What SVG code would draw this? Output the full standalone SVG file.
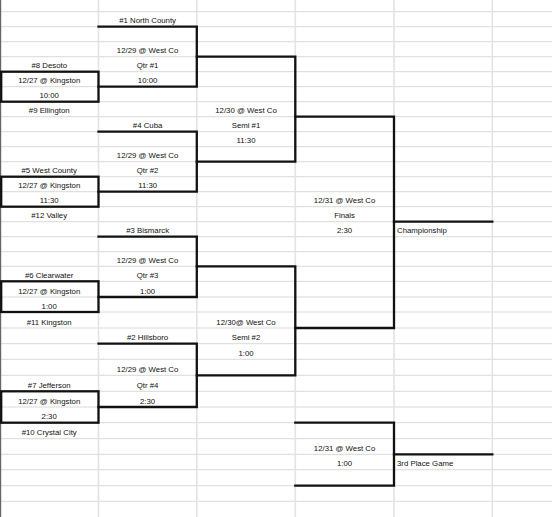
<svg xmlns="http://www.w3.org/2000/svg" width="552" height="517" viewBox="0 0 552 517">
<style>
.g{stroke:#d9d9d9;stroke-width:1;fill:none}
.gv{stroke:#e3e3e3;stroke-width:1.6;fill:none}
.b{stroke:#111;stroke-width:2.3;fill:none;stroke-linecap:square}
text{font-family:"Liberation Sans",Arial,sans-serif;font-size:7.8px;fill:#111}
.c{text-anchor:middle}
</style>
<rect width="552" height="517" fill="#fff"/>
<g id="grid">
<path class="g" d="M0,11.7H552M0,26.7H552M0,41.7H552M0,56.7H552M0,71.7H552M0,86.7H552M0,101.7H552M0,116.7H552M0,131.7H552M0,146.7H552M0,161.7H552M0,176.7H552M0,191.7H552M0,206.7H552M0,221.7H552M0,236.7H552M0,251.7H552M0,266.3H552M0,281.3H552M0,297H552M0,312H552M0,328H552M0,343.7H552M0,359.3H552M0,375.3H552M0,391.3H552M0,407H552M0,422.7H552M0,438.7H552M0,454.3H552M0,469.7H552M0,485.7H552M0,501.3H552"/>
<path class="gv" d="M98.5,0V517M196.8,0V517M295.3,0V517M394,0V517M492.3,0V517"/>
<path d="M0.6,0V517" stroke="#666" stroke-width="1.2"/>
</g>
<g id="connectors">
<path class="b" d="M98.5,26.7H196.8V86.7H98.5"/>
<path class="b" d="M98.5,131.7H196.8V191.7H98.5"/>
<path class="b" d="M98.5,236.7H196.8V297H98.5"/>
<path class="b" d="M98.5,343.7H196.8V407H98.5"/>
<path class="b" d="M196.8,56.7H295.3V161.7H196.8"/>
<path class="b" d="M196.8,266.3H295.3V375.3H196.8"/>
<path class="b" d="M295.3,116.7H394V328H295.3"/>
<path class="b" d="M394,221.7H492.3"/>
<path class="b" d="M295.3,422.7H394V485.7H295.3"/>
<path class="b" d="M394,454.3H492.3"/>
</g>
<g id="r1-game1">
<rect class="b" x="1.2" y="71.7" width="97.3" height="30"/>
<text class="c" x="49.2" y="68.2">#8 Desoto</text>
<text class="c" x="49.2" y="83.2">12/27 @ Kingston</text>
<text class="c" x="49.2" y="98.2">10:00</text>
<text class="c" x="49.2" y="113.2">#9 Ellington</text>
</g>
<g id="r1-game2">
<rect class="b" x="1.2" y="176.7" width="97.3" height="30"/>
<text class="c" x="49.2" y="173.2">#5 West County</text>
<text class="c" x="49.2" y="188.2">12/27 @ Kingston</text>
<text class="c" x="49.2" y="203.2">11:30</text>
<text class="c" x="49.2" y="218.2">#12 Valley</text>
</g>
<g id="r1-game3">
<rect class="b" x="1.2" y="281.3" width="97.3" height="30.7"/>
<text class="c" x="49.2" y="277.8">#6 Clearwater</text>
<text class="c" x="49.2" y="293.5">12/27 @ Kingston</text>
<text class="c" x="49.2" y="308.5">1:00</text>
<text class="c" x="49.2" y="324.5">#11 Kingston</text>
</g>
<g id="r1-game4">
<rect class="b" x="1.2" y="391.3" width="97.3" height="31.4"/>
<text class="c" x="49.2" y="387.8">#7 Jefferson</text>
<text class="c" x="49.2" y="403.5">12/27 @ Kingston</text>
<text class="c" x="49.2" y="419.2">2:30</text>
<text class="c" x="49.2" y="435.2">#10 Crystal City</text>
</g>
<g id="qtr1">
<text class="c" x="147.6" y="23.2">#1 North County</text>
<text class="c" x="147.6" y="53.2">12/29 @ West Co</text>
<text class="c" x="147.6" y="68.2">Qtr #1</text>
<text class="c" x="147.6" y="83.2">10:00</text>
</g>
<g id="qtr2">
<text class="c" x="147.6" y="128.2">#4 Cuba</text>
<text class="c" x="147.6" y="158.2">12/29 @ West Co</text>
<text class="c" x="147.6" y="173.2">Qtr #2</text>
<text class="c" x="147.6" y="188.2">11:30</text>
</g>
<g id="qtr3">
<text class="c" x="147.6" y="233.2">#3 Bismarck</text>
<text class="c" x="147.6" y="262.8">12/29 @ West Co</text>
<text class="c" x="147.6" y="277.8">Qtr #3</text>
<text class="c" x="147.6" y="293.5">1:00</text>
</g>
<g id="qtr4">
<text class="c" x="147.6" y="340.2">#2 Hillsboro</text>
<text class="c" x="147.6" y="371.8">12/29 @ West Co</text>
<text class="c" x="147.6" y="387.8">Qtr #4</text>
<text class="c" x="147.6" y="403.5">2:30</text>
</g>
<g id="semi1">
<text class="c" x="246" y="113.2">12/30 @ West Co</text>
<text class="c" x="246" y="128.2">Semi #1</text>
<text class="c" x="246" y="143.2">11:30</text>
</g>
<g id="semi2">
<text class="c" x="246" y="324.5">12/30@ West Co</text>
<text class="c" x="246" y="340.2">Semi #2</text>
<text class="c" x="246" y="355.8">1:00</text>
</g>
<g id="finals">
<text class="c" x="344.6" y="203.2">12/31 @ West Co</text>
<text class="c" x="344.6" y="218.2">Finals</text>
<text class="c" x="344.6" y="233.2">2:30</text>
</g>
<g id="championship">
<text x="397" y="233.2">Championship</text>
</g>
<g id="third-place">
<text class="c" x="344.6" y="450.8">12/31 @ West Co</text>
<text class="c" x="344.6" y="466.2">1:00</text>
<text x="397" y="466.2">3rd Place Game</text>
</g>
</svg>
